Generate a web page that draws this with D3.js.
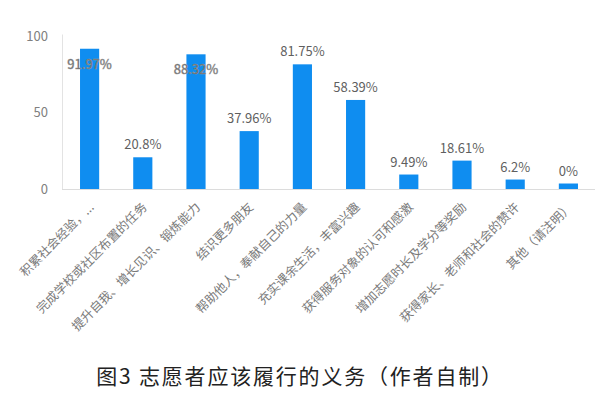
<!DOCTYPE html>
<html><head><meta charset="utf-8">
<script src="https://cdn.jsdelivr.net/npm/d3@7"></script>
<style>body{margin:0;background:#fff}svg{display:block}</style>
</head><body>
<script>
const categories = ["积累社会经验，...","完成学校或社区布置的任务","提升自我、增长见识、锻炼能力","结识更多朋友","帮助他人，奉献自己的力量","充实课余生活，丰富兴趣","获得服务对象的认可和感激","增加志愿时长及学分等奖励","获得家长、老师和社会的赞许","其他（请注明）"];
const values = [91.97, 20.8, 88.32, 37.96, 81.75, 58.39, 9.49, 18.61, 6.2, 3.6];
const valueLabels = ["91.97%","20.8%","88.32%","37.96%","81.75%","58.39%","9.49%","18.61%","6.2%","0%"];
const insideLabel = [true,false,true,false,false,false,false,false,false,false];
const yTicks = [0, 50, 100];
const caption = "图3 志愿者应该履行的义务（作者自制）";

const W = 600, H = 397;
const svg = d3.select("body").append("svg").attr("width", W).attr("height", H);
svg.append("rect").attr("width", W).attr("height", H).attr("fill", "#fff");

const x = d3.scaleBand().domain(categories).range([63, 595]).paddingInner(0.64).paddingOuter(0.32);
const y = d3.scaleLinear().domain([0, 100]).range([189, 36.5]);

const font = "'Noto Sans CJK SC','Noto Sans',sans-serif";

// axis lines
svg.append("line").attr("x1", 62.5).attr("x2", 62.5).attr("y1", y(100) - 2).attr("y2", y(0)).attr("stroke", "#e3e3e3");
svg.append("line").attr("x1", 62).attr("x2", 595).attr("y1", y(0) + 0.5).attr("y2", y(0) + 0.5).attr("stroke", "#dcdcdc");

// y tick labels
const yAxis = d3.axisLeft(y).tickValues(yTicks).tickSize(0).tickPadding(0);
const gy = svg.append("g").attr("transform", "translate(48,0)").call(yAxis);
gy.select(".domain").remove();
gy.selectAll("text").attr("font-family", font).attr("font-size", 13).attr("fill", "#808080");

// bars
svg.selectAll("rect.bar").data(values).join("rect").attr("class", "bar")
  .attr("x", (d, i) => x(categories[i]))
  .attr("width", x.bandwidth())
  .attr("y", d => y(d))
  .attr("height", d => y(0) - y(d))
  .attr("fill", "#0f8df0");

// value labels
svg.selectAll("text.val").data(values).join("text").attr("class", "val")
  .attr("x", (d, i) => x(categories[i]) + x.bandwidth() / 2)
  .attr("y", (d, i) => insideLabel[i] ? y(d) + 20 : y(d) - 8)
  .attr("text-anchor", "middle")
  .attr("font-family", font).attr("font-size", 13)
  .attr("fill", (d, i) => insideLabel[i] ? "#555" : "#5f5f5f")
  .attr("stroke", (d, i) => insideLabel[i] ? "#9a9a9a" : "none")
  .attr("stroke-width", 0.5)
  .text((d, i) => valueLabels[i]);

// category labels
svg.selectAll("text.cat").data(categories).join("text").attr("class", "cat")
  .attr("transform", d => `translate(${x(d) + x.bandwidth() / 2 + 5},${208}) rotate(-45)`)
  .attr("text-anchor", "end")
  .attr("font-family", font).attr("font-size", 12.5)
  .attr("fill", "#7a7a7a")
  .text(d => d);

// caption
svg.append("text").attr("x", 300).attr("y", 384).attr("text-anchor", "middle")
  .attr("font-family", "'Noto Sans CJK SC',sans-serif").attr("font-size", 21)
  .attr("letter-spacing", 1.8).attr("fill", "#222")
  .text(caption);
</script>
</body></html>
